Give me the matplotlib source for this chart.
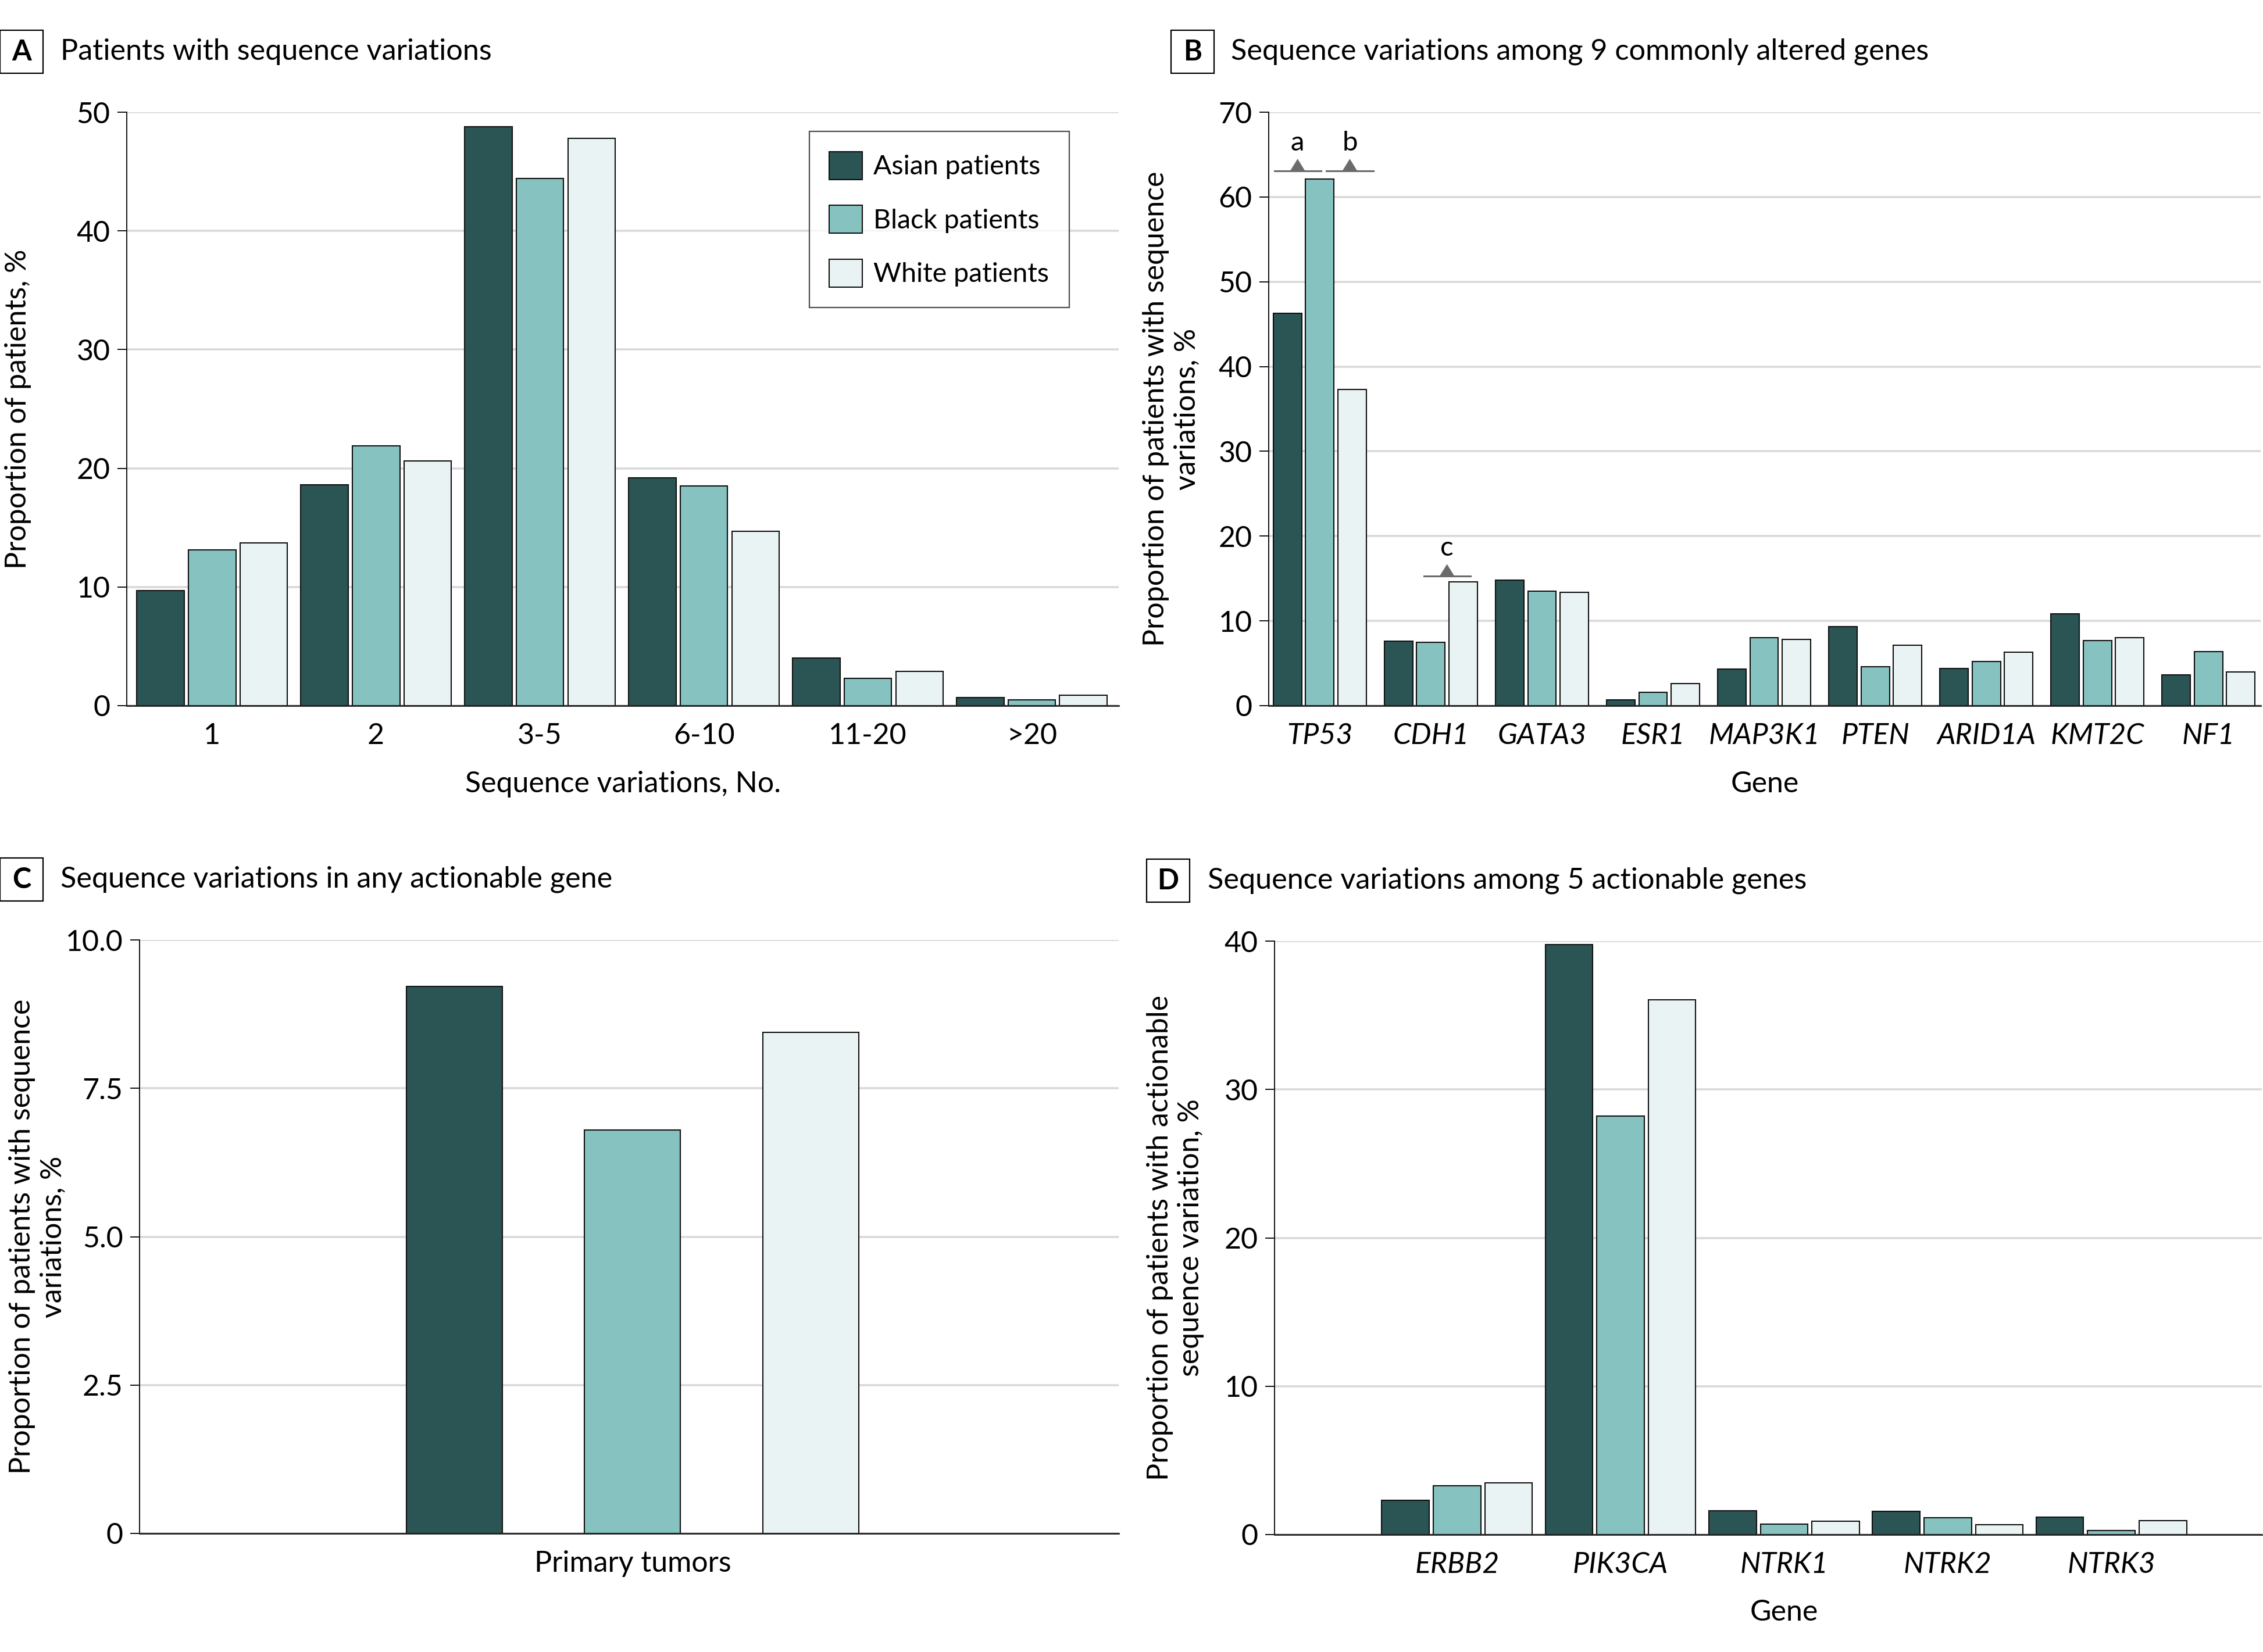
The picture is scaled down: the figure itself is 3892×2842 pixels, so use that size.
import numpy as np
import matplotlib
matplotlib.use("Agg")
from matplotlib import pyplot as plt
from matplotlib.patches import Rectangle

plt.rcParams['font.family'] = ['Lato', 'DejaVu Sans']

# ---- data ----
groups = ['Asian patients', 'Black patients', 'White patients']
colors = ['#2b5454', '#86c2c0', '#eaf3f4']

a_cats = ['1', '2', '3-5', '6-10', '11-20', '>20']
a_asian = [9.7, 18.6, 48.8, 19.2, 4.0, 0.7]
a_black = [13.1, 21.9, 44.4, 18.5, 2.3, 0.5]
a_white = [13.7, 20.6, 47.8, 14.7, 2.9, 0.9]

b_genes = ['TP53', 'CDH1', 'GATA3', 'ESR1', 'MAP3K1', 'PTEN', 'ARID1A', 'KMT2C', 'NF1']
b_asian = [46.3, 7.6, 14.8, 0.7, 4.3, 9.3, 4.4, 10.8, 3.6]
b_black = [62.1, 7.5, 13.5, 1.6, 8.0, 4.6, 5.2, 7.7, 6.4]
b_white = [37.3, 14.6, 13.4, 2.6, 7.8, 7.1, 6.3, 8.0, 4.0]

# significance marks in B: (label, gene index, offset from gene centre, y of line)
b_marks = [('a', 0, -0.20, 63.1), ('b', 0, 0.27, 63.1), ('c', 1, 0.145, 15.3)]

c_cats = ['Primary tumors']
c_asian = [9.22]
c_black = [6.80]
c_white = [8.44]

d_genes = ['ERBB2', 'PIK3CA', 'NTRK1', 'NTRK2', 'NTRK3']
d_asian = [2.3, 39.75, 1.6, 1.55, 1.17]
d_black = [3.3, 28.2, 0.7, 1.13, 0.26]
d_white = [3.5, 36.06, 0.9, 0.66, 0.94]

W, H = 3892, 2842
fig = plt.figure(figsize=(W / 100, H / 100), dpi=100)

FS = 36


def px_axes(l, r, t, b):
    return fig.add_axes([l / W, 1 - b / H, (r - l) / W, (b - t) / H])


def style(ax, ylim, yticks, yticklabels=None):
    ax.set_ylim(*ylim)
    ax.set_yticks(yticks)
    if yticklabels is not None:
        ax.set_yticklabels(yticklabels)
    ax.yaxis.grid(True, color='#d9d9d9', lw=2.6)
    ax.set_axisbelow(True)
    for s in ['top', 'right']:
        ax.spines[s].set_visible(False)
    ax.spines['left'].set_linewidth(1.4)
    ax.spines['left'].set_color('#111111')
    ax.spines['bottom'].set_linewidth(2.0)
    ax.spines['bottom'].set_color('#222222')
    ax.spines['bottom'].set_zorder(5)
    ax.tick_params(axis='y', length=11.5, width=1.4, labelsize=FS, pad=9, color='#111111')
    ax.tick_params(axis='x', length=0, labelsize=FS, pad=21)


def bars(ax, n, series, width, step):
    x = np.arange(n)
    for k, (vals, col) in enumerate(zip(series, colors)):
        ax.bar(x + (k - 1) * step, vals, width, color=col, edgecolor='#111111',
               linewidth=1.5, label=groups[k], zorder=3)
    return x


def panel_title(letter, box_l, box_t, text_x, cy, title):
    box_w, box_h = 74, 74
    fig.add_artist(Rectangle((box_l / W, 1 - (box_t + box_h) / H), box_w / W, box_h / H,
                             transform=fig.transFigure, fc='white', ec='black', lw=1.6))
    fig.text((box_l + box_w / 2) / W, 1 - (box_t + box_h / 2) / H, letter,
             ha='center', va='center', fontsize=35, fontweight='bold')
    fig.text(text_x / W, 1 - cy / H, title, ha='left', va='center', fontsize=36.3)


# ---- A ----
axA = px_axes(218, 1924, 193, 1214)
x = bars(axA, len(a_cats), [a_asian, a_black, a_white], 0.29, 0.315)
axA.set_xlim(-0.52, 5.53)
axA.set_xticks(x)
axA.set_xticklabels(a_cats)
style(axA, (0, 50), [0, 10, 20, 30, 40, 50])
axA.set_ylabel('Proportion of patients, %', fontsize=FS)
axA.yaxis.set_label_coords(-0.096, 0.5)
axA.set_xlabel('Sequence variations, No.', fontsize=FS)
axA.xaxis.set_label_coords(0.5, -0.11)
leg = axA.legend(loc='upper right', bbox_to_anchor=(0.950, 0.968), borderaxespad=0,
                 fontsize=33.5, frameon=True, fancybox=False, edgecolor='#222222',
                 handlelength=1.22, handleheight=1.22, handletextpad=0.4,
                 labelspacing=0.95, borderpad=0.75)
leg.get_frame().set_linewidth(1.6)
panel_title('A', 0, 52, 104, 89, 'Patients with sequence variations')

# ---- B ----
axB = px_axes(2182, 3888, 193, 1214)
x = bars(axB, len(b_genes), [b_asian, b_black, b_white], 0.256, 0.29)
axB.set_xlim(-0.46, 8.47)
axB.set_xticks(x)
axB.set_xticklabels(b_genes, fontstyle='italic')
style(axB, (0, 70), [0, 10, 20, 30, 40, 50, 60, 70])
axB.set_ylabel('Proportion of patients with sequence\nvariations, %', fontsize=FS)
axB.yaxis.set_label_coords(-0.069, 0.5)
axB.set_xlabel('Gene', fontsize=FS)
axB.xaxis.set_label_coords(0.5, -0.11)
for lab, gi, off, yl in b_marks:
    xc = gi + off
    axB.plot([xc - 0.21, xc + 0.21], [yl, yl], color='#6b6b6b', lw=2.2, zorder=4)
    # small triangle sitting on the line (half width 0.066 units, height 1.4 units)
    axB.fill([xc - 0.066, xc + 0.066, xc], [yl, yl, yl + 1.4], color='#6b6b6b',
             lw=0, zorder=4)
    axB.text(xc, yl + 2.4, lab, ha='center', va='baseline', fontsize=34)
panel_title('B', 2014, 52, 2117, 89, 'Sequence variations among 9 commonly altered genes')

# ---- C ----
axC = px_axes(240, 1924, 1617, 2638)
for k, (vals, col) in enumerate(zip([c_asian, c_black, c_white], colors)):
    axC.bar(np.arange(len(c_cats)) + (k - 1), vals, 0.538, color=col,
            edgecolor='#111111', linewidth=1.5, zorder=3)
axC.set_xlim(-2.768, 2.73)
axC.set_xticks(np.arange(len(c_cats)))
axC.set_xticklabels(c_cats)
style(axC, (0, 10), [0, 2.5, 5.0, 7.5, 10.0], ['0', '2.5', '5.0', '7.5', '10.0'])
axC.set_ylabel('Proportion of patients with sequence\nvariations, %', fontsize=FS)
axC.yaxis.set_label_coords(-0.0745, 0.5)
panel_title('C', 0, 1476, 104, 1513, 'Sequence variations in any actionable gene')

# ---- D ----
axD = px_axes(2192, 3890, 1619, 2640)
x = bars(axD, len(d_genes), [d_asian, d_black, d_white], 0.29, 0.315)
axD.set_xlim(-1.115, 4.92)
axD.set_xticks(x)
axD.set_xticklabels(d_genes, fontstyle='italic')
style(axD, (0, 40), [0, 10, 20, 30, 40])
axD.set_ylabel('Proportion of patients with actionable\nsequence variation, %', fontsize=FS)
axD.yaxis.set_label_coords(-0.071, 0.5)
axD.set_xlabel('Gene', fontsize=FS)
axD.xaxis.set_label_coords((2 + 1.115) / (4.92 + 1.115), -0.109)
panel_title('D', 1972, 1478, 2077, 1515, 'Sequence variations among 5 actionable genes')

fig.savefig('out.png', dpi=100, facecolor='white')
